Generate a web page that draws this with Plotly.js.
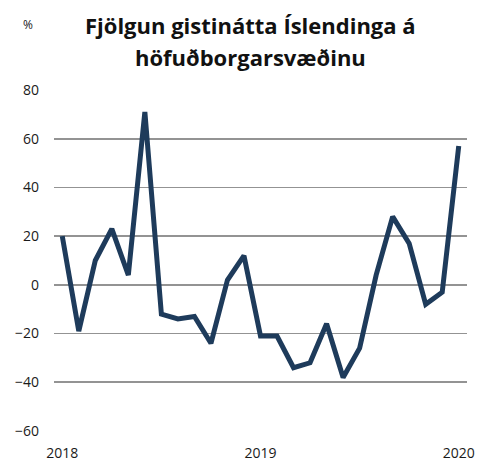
<!DOCTYPE html>
<html>
<head>
<meta charset="utf-8">
<script src="https://cdn.plot.ly/plotly-3.0.1.min.js"></script>
<style>html,body{margin:0;padding:0;background:#fff;}#chart{width:487px;height:463px;}</style>
</head>
<body>
<div id="chart"></div>
<script>
const months = ["2018-01","2018-02","2018-03","2018-04","2018-05","2018-06","2018-07","2018-08","2018-09","2018-10","2018-11","2018-12",
                "2019-01","2019-02","2019-03","2019-04","2019-05","2019-06","2019-07","2019-08","2019-09","2019-10","2019-11","2019-12","2020-01"];
const values = [20,-19,10,23,4,71,-12,-14,-13,-24,2,12,
                -21,-21,-34,-32,-16,-38,-26,4,28,17,-8,-3,57];
const tickPositions = [0,12,24];
const tickLabels = ["2018","2019","2020"];
const yTicks = [-60,-40,-20,0,20,40,60,80];
const titleLines = ["Fjölgun gistinátta Íslendinga á", "höfuðborgarsvæðinu"];

const xIdx = months.map((m,i)=>i);
const font = "Open Sans, Liberation Sans, sans-serif";

Plotly.newPlot("chart", [{
  x: xIdx, y: values, text: months, type: "scatter", mode: "lines",
  line: {color: "#1e3b5b", width: 5, shape: "linear"},
  hoverinfo: "text+y"
}], {
  width: 487, height: 463,
  margin: {l: 54, r: 20, t: 90, b: 32},
  paper_bgcolor: "#fff", plot_bgcolor: "#fff",
  showlegend: false,
  font: {family: font, size: 14, color: "#1a1a1a"},
  xaxis: {range: [-0.5, 24.5], tickmode: "array", tickvals: tickPositions, ticktext: tickLabels,
          showgrid: false, zeroline: false, showline: false, ticks: "", ticklabelstandoff: 12,
          tickfont: {family: font, size: 14, color: "#1a1a1a"}, fixedrange: true},
  yaxis: {range: [-60, 80], tickmode: "array", tickvals: yTicks,
          showgrid: true, gridcolor: "#939393", gridwidth: 1.6,
          zeroline: true, zerolinecolor: "#939393", zerolinewidth: 1.6,
          showline: false, ticks: "", ticklabelstandoff: 14,
          tickfont: {family: font, size: 14, color: "#1a1a1a"}, fixedrange: true},
  annotations: [
    {text: "<b>" + titleLines[0] + "</b>", xref: "paper", yref: "paper", x: (250-54)/413, y: (431-25)/341,
     xanchor: "center", yanchor: "middle", showarrow: false,
     font: {family: font, size: 22, color: "#111"}},
    {text: "<b>" + titleLines[1] + "</b>", xref: "paper", yref: "paper", x: (250-54)/413, y: (431-57)/341,
     xanchor: "center", yanchor: "middle", showarrow: false,
     font: {family: font, size: 22, color: "#111"}},
    {text: "%", xref: "paper", yref: "paper", x: (28-54)/413, y: (431-25)/341,
     xanchor: "center", yanchor: "middle", showarrow: false,
     font: {family: font, size: 12, color: "#1a1a1a"}}]
}, {displayModeBar: false, staticPlot: true});
</script>
</body>
</html>
